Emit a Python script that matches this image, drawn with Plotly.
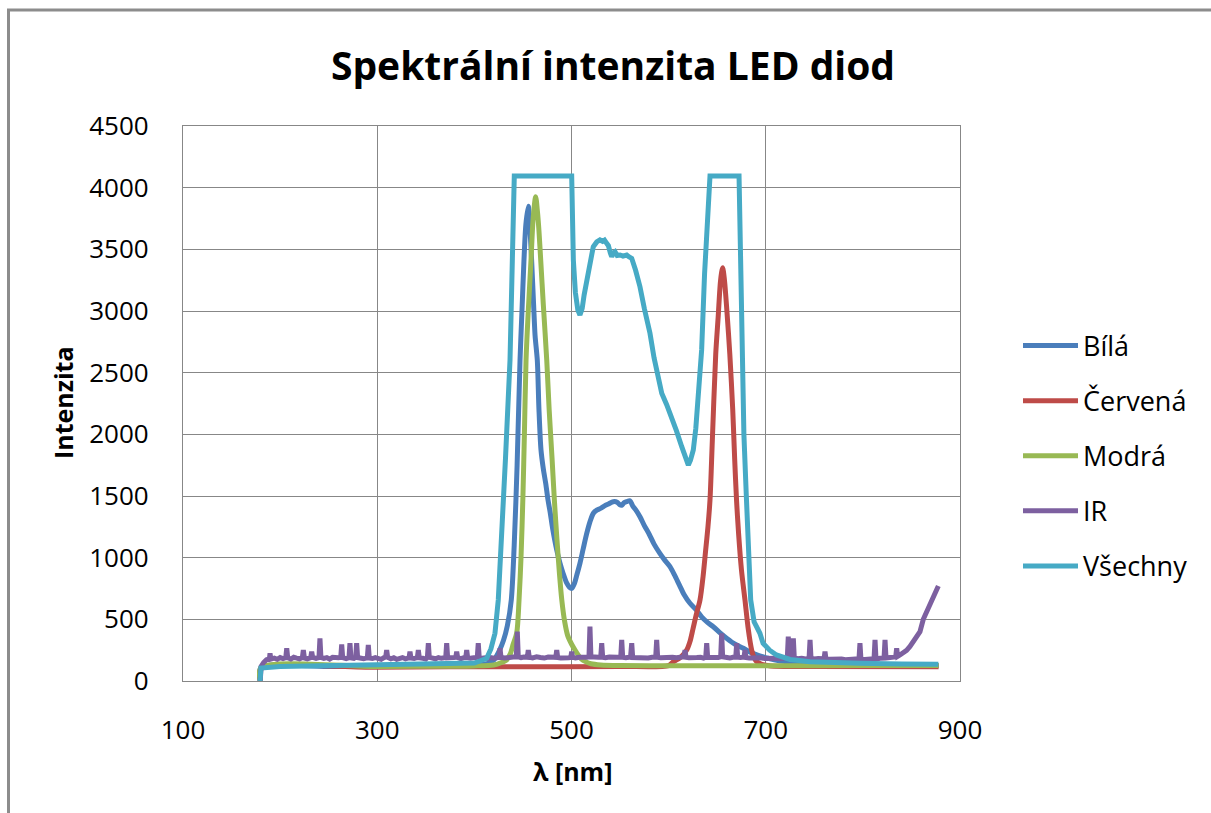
import plotly.graph_objects as go

# ---------------- data ----------------
bila_nm = [179.5, 180.5, 250, 350, 400, 415, 420, 426, 430, 434, 438, 441, 444, 447, 449, 451, 453,
           455.5, 457, 459, 461, 462.5, 464.8, 466.5, 468.6, 471, 473.5, 475.8, 478, 480.5, 484.8, 488,
           491.5, 495, 498, 500.2, 503, 505.5, 508.7, 512, 515.5, 519, 522.5, 526, 530, 534, 538, 543,
           547, 549.5, 551.7, 554, 557, 560.2, 563, 566, 570.5, 575, 580, 585, 591, 596, 601.4, 606,
           611, 616, 622, 628, 634, 640, 646, 653, 660, 668, 677, 685, 693, 700, 710, 720, 730, 745,
           760, 780, 800, 830, 878]
bila_val = [0, 110, 118, 122, 128, 145, 170, 251, 330, 450, 657, 1100, 1750, 2600, 3000, 3400, 3700,
            3850, 3700, 3400, 3050, 2800, 2600, 2200, 1873, 1720, 1600, 1468, 1370, 1240, 1062, 960,
            870, 795, 760, 751, 790, 860, 954, 1070, 1190, 1290, 1360, 1385, 1400, 1420, 1435, 1454,
            1450, 1430, 1425, 1445, 1455, 1462, 1420, 1390, 1332, 1260, 1190, 1110, 1035, 980, 927, 860,
            780, 700, 630, 580, 520, 475, 440, 390, 345, 300, 265, 230, 205, 190, 170, 157, 150, 142,
            137, 133, 130, 128, 126]

cervena_nm = [179.5, 180.5, 300, 450, 550, 600, 605, 612, 618.6, 622, 625, 628.5, 632.3, 635.5, 638,
              640.5, 642.6, 645, 648.5, 651, 653.5, 655.6, 657.5, 660, 663, 666, 668, 669.9, 672, 675,
              678.6, 682, 685.5, 688, 690.7, 696, 705, 750, 878]
cervena_val = [0, 100, 112, 116, 118, 125, 157, 190, 251, 320, 420, 540, 657, 850, 1050,
               1250, 1468, 1950, 2650, 2950, 3250, 3350, 3250, 3000, 2650, 2200, 1800, 1468, 1200, 900,
               657, 420, 251, 190, 157, 135, 122, 118, 116]

modra_nm = [179.5, 180.5, 300, 400, 420, 428, 433, 437, 440, 443.6, 446, 448, 450, 451.5, 453.2, 455.5,
            458.3, 460.5, 463.1, 465, 466.5, 468.3, 471, 474.5, 477, 480, 482.5, 485, 487.5, 490, 493,
            496, 500, 503.6, 507, 510, 515, 520, 530, 550, 600, 700, 800, 878]
modra_val = [0, 110, 118, 122, 130, 150, 170, 220, 300, 389, 657, 1000, 1500, 2000, 2603, 3000,
             3413, 3750, 3927, 3800, 3650, 3413, 3050, 2603, 2200, 1800, 1450, 1150, 880, 657, 480,
             370, 300, 251, 210, 180, 155, 140, 130, 125, 124, 124, 125, 126]

ir_nm = [179.5, 180.5, 183, 186, 189, 189.6, 190.5, 194, 197, 200, 203, 205.8, 206.8, 207.8, 211, 214,
         217, 220, 222.9, 223.9, 225, 228, 231.5, 232.5, 233.5, 237, 240, 241, 242, 245, 248, 251, 254,
         257, 260, 262.4, 263.4, 264.4, 268, 270.9, 271.9, 272.9, 276, 277.8, 278.8, 279.8, 283, 286,
         289.8, 290.8, 291.8, 295, 298, 301, 304, 307, 308.7, 309.7, 310.7, 314, 317, 320, 323, 326,
         329, 332.7, 333.7, 334.7, 338, 341.3, 342.3, 343.3, 347, 350, 351.6, 352.6, 353.6, 357, 360,
         363, 366, 370.5, 371.5, 372.5, 376, 379, 380.8, 381.8, 382.8, 386, 389, 391.1, 392.1, 393.1,
         396, 399, 403, 404, 405, 408, 411, 414, 417, 420, 423, 425.4, 426.4, 427.4, 431, 434, 437,
         440, 443.2, 444.2, 445.2, 448, 451, 454.5, 455.5, 456.5, 460, 464, 468, 472, 476, 480, 483.8,
         484.8, 485.8, 489, 493, 497, 499.2, 500.2, 501.2, 504, 508, 512, 516, 518, 519, 520, 524, 528,
         530.1, 531.1, 532.1, 535, 539, 543, 547, 550.7, 551.7, 552.7, 556, 560.8, 562, 563, 567, 571,
         575, 579, 583, 586.7, 587.7, 588.7, 592, 596, 600, 604, 608, 612, 615.9, 616.9, 617.9, 621,
         625, 629, 633, 636, 638.2, 639.2, 640.2, 644, 648, 651, 653.6, 654.6, 655.6, 659, 663, 666,
         669.1, 670.1, 671.1, 674, 677.6, 678.6, 679.6, 683, 687, 691, 695, 699, 703, 707, 711, 715,
         719, 722.2, 723.2, 724.2, 727.4, 728.4, 729.4, 733, 737, 741, 744.6, 745.6, 746.6, 750, 754,
         757, 760, 761, 762, 766, 770, 774, 778, 782, 786, 790, 793, 796, 797, 798, 802, 806, 810,
         811.5, 812.5, 813.5, 817.6, 821.8, 822.8, 823.8, 828, 833.8, 834.8, 835.8, 838.2, 842, 845,
         848.5, 852, 855, 858.8, 862.2, 865.7, 869, 872.5, 875, 877.7]
ir_val = [0, 120, 150, 172, 180, 224, 178, 185, 176, 190, 182, 190, 265, 188, 178, 192,
          185, 180, 190, 251, 186, 180, 190, 238, 192, 184, 190, 346, 192, 184, 190, 178, 192,
          185, 188, 192, 297, 190, 182, 190, 306, 188, 184, 192, 306, 190, 186, 180,
          188, 292, 186, 182, 190, 184, 176, 190, 195, 251, 192, 180, 188, 176, 184, 190,
          180, 188, 238, 186, 182, 190, 251, 188, 184, 178, 190, 306, 192, 186, 180,
          190, 184, 190, 306, 188, 184, 190, 192, 238, 190, 182, 188, 190, 251, 188,
          184, 190, 192, 306, 190, 184, 188, 180, 190, 185, 192, 190, 265, 192, 186, 192, 188,
          194, 196, 400, 196, 190, 195, 192, 251, 194, 188, 196, 190, 186, 194, 188, 192,
          251, 190, 186, 192, 188, 190, 238, 192, 186, 192, 188, 192, 196, 441, 196, 190, 192,
          194, 306, 192, 188, 194, 190, 192, 194, 333, 192, 188, 194, 306, 190, 188, 194,
          190, 186, 192, 194, 333, 192, 188, 192, 186, 192, 188, 194, 196, 251, 192, 188,
          194, 190, 192, 186, 194, 306, 192, 188, 192, 190, 196, 387, 196, 190, 186, 192,
          194, 306, 192, 190, 194, 251, 190, 186, 190, 184, 188, 182, 186, 180, 184, 180,
          186, 190, 360, 188, 190, 346, 186, 180, 184, 178, 186, 333, 184, 178, 182,
          176, 180, 238, 178, 176, 180, 174, 178, 172, 176, 172, 176, 180, 306, 178, 174, 178, 176,
          180, 333, 178, 184, 186, 333, 186, 190, 196, 265, 200, 211, 230, 248,
          280, 320, 355, 400, 500, 560, 610, 660, 700, 770]

vsechny_nm = [179.3, 180.3, 200, 250, 300, 350, 390, 400, 405, 410, 412.7, 417, 421.2, 424.6, 428, 432,
              436.7, 439, 441.1, 500.2, 501.9, 504, 506.5, 508.7, 511, 513, 515.6, 519, 522.4, 526,
              529.3, 532, 534, 536.2, 538, 540, 541.4, 543, 544.8, 547, 550, 553, 556.8, 559, 562, 566,
              570.5, 575, 580.8, 585, 589, 592.9, 598, 603.2, 608, 613.5, 617, 620.3, 622.5, 625.4, 628,
              630.6, 634, 637, 640, 642.6, 672.5, 674, 675.5, 677.5, 680, 682.5, 684.5, 688, 694, 697.2,
              704, 711, 725, 745.6, 770, 797, 840, 877.7]
vsechny_val = [0, 105, 118, 124, 127, 130, 138, 145, 160, 175, 184, 260, 387, 657, 1150, 1800,
               2603, 3350, 4095, 4095, 3413, 3150, 3010, 2968, 3020, 3130, 3251, 3420, 3521, 3560,
               3576, 3565, 3575, 3549, 3530, 3470, 3440, 3470, 3481, 3450, 3454, 3445, 3454, 3440, 3427, 3330,
               3197, 3020, 2819, 2620, 2450, 2333, 2240, 2143, 2030, 1900, 1810, 1751, 1790, 1873, 2050,
               2278, 2684, 3300, 3800, 4095, 4095, 3300, 2650, 2000, 1500, 1062, 657, 480, 387, 306,
               250, 211, 175, 157, 148, 143, 138, 135]

series_names = ["Bílá", "Červená", "Modrá", "IR", "Všechny"]
series_x = [bila_nm, cervena_nm, modra_nm, ir_nm, vsechny_nm]
series_y = [bila_val, cervena_val, modra_val, ir_val, vsechny_val]
series_colors = ["#4A7EBB", "#BE4B48", "#98B954", "#7D60A0", "#46AAC5"]
series_shapes = ["spline", "spline", "spline", "linear", "linear"]

x_ticks = [100, 300, 500, 700, 900]
y_ticks = [0, 500, 1000, 1500, 2000, 2500, 3000, 3500, 4000, 4500]

title_text = "Spektrální intenzita LED diod"
x_title = "λ [nm]"
y_title = "Intenzita"

# ---------------- figure ----------------
FONT = "Open Sans"
GRID = "#878787"

fig = go.Figure()
for name, xs, ys, col, shp in zip(series_names, series_x, series_y, series_colors, series_shapes):
    line = dict(color=col, width=5, shape=shp)
    if shp == "spline":
        line["smoothing"] = 0.8
    fig.add_trace(go.Scatter(x=xs, y=ys, mode="lines", name=name, legendgroup=name,
                             line=line, hoverinfo="skip"))

W, H = 1211, 813
L, R, T, B = 183, 960, 126, 681
pw, ph = R - L, B - T


def px2paper_x(px):
    return (px - L) / pw


def px2paper_y(py):
    return (B - py) / ph


fig.update_layout(
    width=W, height=H,
    margin=dict(l=L, r=W - R, t=T, b=H - B, pad=0),
    paper_bgcolor="white", plot_bgcolor="white",
    font=dict(family=FONT, color="#000000"),
    title=dict(text=title_text, x=613 / W, xref="container", xanchor="center",
               y=1 - 66 / H, yref="container", yanchor="middle",
               font=dict(family=FONT, size=39, color="#000000", weight="bold")),
    showlegend=True,
    legend=dict(x=px2paper_x(1018), xanchor="left", y=px2paper_y(456), yanchor="middle",
                font=dict(family=FONT, size=27, color="#000000"),
                tracegroupgap=17, traceorder="grouped", itemwidth=55,
                bgcolor="rgba(0,0,0,0)"),
    xaxis=dict(range=[100, 900], tickvals=x_ticks, ticktext=[str(v) for v in x_ticks],
               showgrid=True, gridcolor=GRID, gridwidth=1.3, zeroline=False,
               showline=True, linecolor=GRID, linewidth=1.3, mirror=True,
               ticks="", ticklabelstandoff=26,
               tickfont=dict(family=FONT, size=26, color="#000000")),
    yaxis=dict(range=[0, 4500], tickvals=y_ticks, ticktext=[str(v) for v in y_ticks],
               showgrid=True, gridcolor=GRID, gridwidth=1.3, zeroline=False,
               showline=True, linecolor=GRID, linewidth=1.3, mirror=True,
               ticks="", ticklabelstandoff=28,
               tickfont=dict(family=FONT, size=26, color="#000000")),
    annotations=[
        dict(text=x_title, xref="paper", yref="paper", x=px2paper_x(572), y=px2paper_y(771),
             xanchor="center", yanchor="middle", showarrow=False,
             font=dict(family=FONT, size=25, color="#000000", weight="bold")),
        dict(text=y_title, xref="paper", yref="paper", x=px2paper_x(63), y=px2paper_y(403),
             xanchor="center", yanchor="middle", showarrow=False, textangle=-90,
             font=dict(family=FONT, size=25, color="#000000", weight="bold")),
    ],
    shapes=[
        dict(type="line", xref="paper", yref="paper",
             x0=px2paper_x(8.5), x1=px2paper_x(8.5), y0=px2paper_y(9), y1=px2paper_y(820),
             line=dict(color="#8C8C8C", width=3)),
        dict(type="line", xref="paper", yref="paper",
             x0=px2paper_x(7), x1=px2paper_x(1215), y0=px2paper_y(10), y1=px2paper_y(10),
             line=dict(color="#8C8C8C", width=3)),
    ],
)

fig.write_html("out.html")
